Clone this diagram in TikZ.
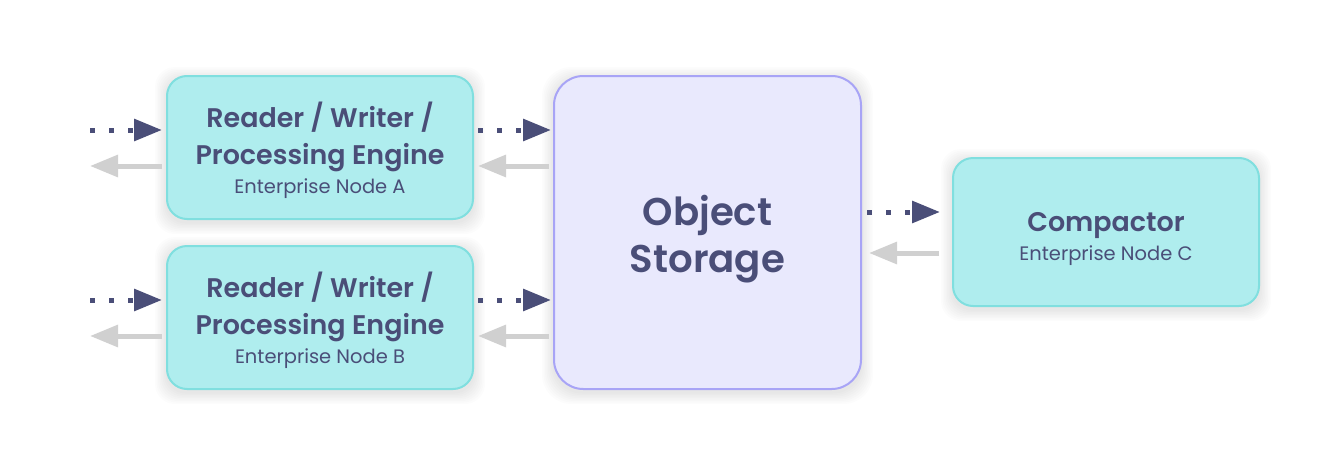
\documentclass[tikz,border=0pt]{standalone}
\usepackage{fontspec}
\setmainfont{Poppins}[BoldFont={Poppins SemiBold}]
\usetikzlibrary{arrows.meta,calc}
\definecolor{txt}{HTML}{4A4E78}
\definecolor{tealfill}{HTML}{AFEDEE}
\definecolor{tealline}{HTML}{80DFDF}
\definecolor{stfill}{HTML}{E9E9FD}
\definecolor{stline}{HTML}{A8A4F6}
\definecolor{grayarr}{HTML}{D0D0D0}
\tikzset{
  tbox/.style={draw=tealline, fill=tealfill, line width=1.5pt, rounded corners=15pt, minimum width=306*0.75pt, minimum height=143*0.75pt, inner sep=0pt},
  sbox/.style={draw=stline, fill=stfill, line width=1.5pt, rounded corners=22pt, minimum width=307*0.75pt, minimum height=313*0.75pt, inner sep=0pt},
  ttl/.style={text=txt, font=\fontsize{20.2}{24}\selectfont\bfseries, anchor=base, inner sep=0pt},
  sub/.style={text=txt, font=\fontsize{14.6}{17}\selectfont, anchor=base, inner sep=0pt},
  big/.style={text=txt, font=\fontsize{29}{34}\selectfont\bfseries, anchor=base, inner sep=0pt},
  dotarr/.style={draw=txt, line width=3.75pt, dash pattern=on 3.75pt off 10.5pt, -{Triangle[length=21pt,width=16pt]}},
  grayarr/.style={draw=grayarr, line width=3.75pt, -{Triangle[length=21pt,width=16pt]}},
}
\begin{document}
\begin{tikzpicture}[x=0.75pt,y=-0.75pt]
\useasboundingbox[fill=white] (0,0) rectangle (1340,468);
% soft shadows
\foreach \r in {1,...,8}{
  \fill[black,opacity=0.012,rounded corners=15pt] (167-\r*1.5,76-\r*1.5+3) rectangle (473+\r*1.5,219+\r*1.5+3);
  \fill[black,opacity=0.012,rounded corners=15pt] (167-\r*1.5,246-\r*1.5+3) rectangle (473+\r*1.5,389+\r*1.5+3);
  \fill[black,opacity=0.012,rounded corners=22pt] (554-\r*1.5,76-\r*1.5+3) rectangle (861+\r*1.5,389+\r*1.5+3);
  \fill[black,opacity=0.012,rounded corners=15pt] (953-\r*1.5,158-\r*1.5+3) rectangle (1259+\r*1.5,306+\r*1.5+3);
}
\node[tbox] (A) at (320,147.5) {};
\node[tbox] (B) at (320,317.5) {};
\node[sbox] (S) at (707.5,232.5) {};
\node[tbox, minimum height=148*0.75pt] (C) at (1106,232) {};

\node[ttl] (A1) at ($(A.center)+(0,-20.5)$) {Reader / Writer /};
\node[ttl] (A2) at ($(A.center)+(0,16.5)$) {Processing Engine};
\node[sub] (A3) at ($(A.center)+(0,45.5)$) {Enterprise Node A};
\node[ttl] (B1) at ($(B.center)+(0,-20.5)$) {Reader / Writer /};
\node[ttl] (B2) at ($(B.center)+(0,16.5)$) {Processing Engine};
\node[sub] (B3) at ($(B.center)+(0,45.5)$) {Enterprise Node B};
\node[big] (S1) at ($(S.center)+(0,-7.5)$) {Object};
\node[big] (S2) at ($(S.center)+(0,39.5)$) {Storage};
\node[ttl] (C1) at ($(C.center)+(0,-0.3)$) {Compactor};
\node[sub] (C2) at ($(C.center)+(0,28)$) {Enterprise Node C};

% free ends on the left
\coordinate (inA) at ($(A.west)+(-76,-17.5)$);
\coordinate (outA) at ($(A.west)+(-76,18.5)$);
\coordinate (inB) at ($(B.west)+(-76,-17.5)$);
\coordinate (outB) at ($(B.west)+(-76,18.5)$);

\draw[dotarr] (inA) -- ($(A.west)+(-4,-17.5)$);
\draw[grayarr] ($(A.west)+(-4,18.5)$) -- (outA);
\draw[dotarr] (inB) -- ($(B.west)+(-4,-17.5)$);
\draw[grayarr] ($(B.west)+(-4,18.5)$) -- (outB);

\draw[dotarr] ($(A.east)+(4,-17.5)$) -- ($(S.west|-A.east)+(-2,-17.5)$);
\draw[grayarr] ($(S.west|-A.east)+(-4,18.5)$) -- ($(A.east)+(4,18.5)$);
\draw[dotarr] ($(B.east)+(4,-17.5)$) -- ($(S.west|-B.east)+(-2,-17.5)$);
\draw[grayarr] ($(S.west|-B.east)+(-4,18.5)$) -- ($(B.east)+(4,18.5)$);

\draw[dotarr] ($(S.east|-C.west)+(5,-20)$) -- ($(C.west)+(-12,-20)$);
\draw[grayarr] ($(C.west)+(-13,21)$) -- ($(S.east|-C.west)+(7,21)$);
\end{tikzpicture}
\end{document}
